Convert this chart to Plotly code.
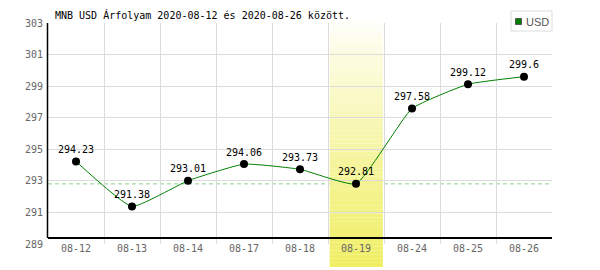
import plotly.graph_objects as go

dates = ["08-12", "08-13", "08-14", "08-17", "08-18", "08-19", "08-24", "08-25", "08-26"]
usd = [294.23, 291.38, 293.01, 294.06, 293.73, 292.81, 297.58, 299.12, 299.6]
y_ticks = [289, 291, 293, 295, 297, 299, 301, 303]
highlight_index = 5
title_text = "MNB USD Árfolyam 2020-08-12 és 2020-08-26 között."
series_name = "USD"

MONO = "DejaVu Sans Mono"
GRID = "#dcdcdc"

fig = go.Figure()
fig.add_trace(go.Scatter(
    x=list(range(len(dates))), y=usd,
    mode="lines+markers+text",
    text=[f"{v:g}" for v in usd],
    textposition="top center",
    textfont=dict(family=MONO, size=10, color="#000000"),
    line=dict(color="#008000", width=1, shape="spline", smoothing=0.4),
    marker=dict(color="#000000", size=8),
    showlegend=False, cliponaxis=False,
))

shapes = []
# reference dashed line at highlighted value
shapes.append(dict(type="line", xref="paper", x0=0, x1=1, yref="y",
                   y0=usd[highlight_index], y1=usd[highlight_index],
                   line=dict(color="#8fd08f", width=1, dash="4px,3px"), layer="between"))
# gradient highlight band
N = 60
y_top, y_bot = 1.0136, -0.104
top_c = (255, 255, 255)
bot_c = (240, 238, 98)
for i in range(N):
    t0 = i / N
    t1 = (i + 1) / N
    tm = ((t0 + t1) / 2) ** 0.85
    c = tuple(round(top_c[k] + (bot_c[k] - top_c[k]) * tm) for k in range(3))
    shapes.append(dict(type="rect", xref="x", yref="paper",
                       x0=highlight_index - 0.5 + 0.03, x1=highlight_index + 0.5 - 0.02,
                       y0=y_top - (y_top - y_bot) * t1, y1=y_top - (y_top - y_bot) * t0,
                       fillcolor="rgb(%d,%d,%d)" % c, line=dict(width=0), layer="between"))
# axis lines
shapes.append(dict(type="line", xref="paper", yref="paper", x0=0, x1=1, y0=0.027, y1=0.027,
                   line=dict(color="#000000", width=2), layer="above"))
shapes.append(dict(type="line", xref="paper", yref="paper", x0=-0.001, x1=-0.001, y0=0.027, y1=1.0,
                   line=dict(color="#000000", width=1.5), layer="above"))
# legend box
shapes.append(dict(type="rect", xref="paper", yref="paper", x0=(511 - 48) / 504, x1=(552 - 48) / 504,
                   y0=(244 - 31) / 221, y1=(244 - 11) / 221,
                   fillcolor="#ffffff", line=dict(color=GRID, width=1), layer="above"))
shapes.append(dict(type="rect", xref="paper", yref="paper", x0=(515.5 - 48) / 504, x1=(521.5 - 48) / 504,
                   y0=(244 - 24.5) / 221, y1=(244 - 18.5) / 221,
                   fillcolor="#008000", line=dict(color="#555555", width=1), layer="above"))

fig.update_layout(
    width=600, height=270,
    margin=dict(l=48, r=48, t=23, b=26, pad=0),
    paper_bgcolor="#ffffff", plot_bgcolor="#ffffff",
    font=dict(family=MONO, size=10, color="#666666"),
    shapes=shapes,
    annotations=[
        dict(text=title_text, xref="paper", yref="paper", x=(53 - 48) / 504, y=(244 - 15.5) / 221,
             xanchor="left", yanchor="middle", showarrow=False,
             font=dict(family=MONO, size=10, color="#000000")),
        dict(text=series_name, xref="paper", yref="paper", x=(524 - 48) / 504, y=(244 - 21.5) / 221,
             xanchor="left", yanchor="middle", showarrow=False,
             font=dict(family="Liberation Sans", size=11, color="#555555")),
    ],
    xaxis=dict(range=[-0.5, len(dates) - 0.5], tickvals=list(range(len(dates))), ticktext=dates,
               showgrid=False, zeroline=False, showline=False, ticks="",
               minor=dict(tickvals=[i + 0.5 for i in range(len(dates))], showgrid=True,
                          gridcolor=GRID, gridwidth=1),
               ticklabelstandoff=-3,
               tickfont=dict(family=MONO, size=10, color="#666666")),
    yaxis=dict(range=[289, 303], tickvals=y_ticks, showgrid=True, gridcolor=GRID, gridwidth=1,
               zeroline=False, showline=False, ticks="", ticklabelstandoff=4,
               tickfont=dict(family=MONO, size=10, color="#666666")),
)

fig.write_html("out.html")
